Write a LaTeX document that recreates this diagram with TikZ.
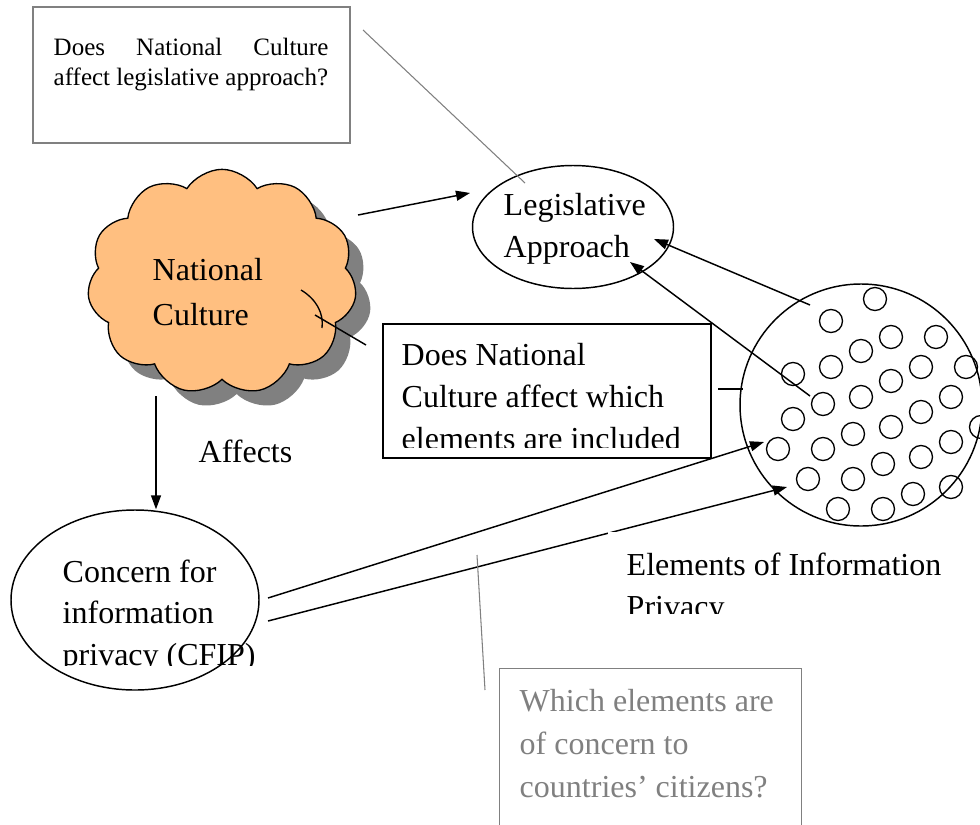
\documentclass[tikz,border=0pt]{standalone}
\usepackage{fontspec}
\setmainfont{Liberation Serif}
\usetikzlibrary{calc, arrows.meta, shadows, shapes.symbols, shapes.geometric}
\definecolor{cloudfill}{RGB}{255,191,128}
\definecolor{notegray}{RGB}{128,128,128}

\begin{document}
\begin{tikzpicture}[x=0.75pt, y=-0.75pt, line width=1.1pt,
		arr/.style={-{Triangle[length=10.5pt, width=7.5pt]}},
		big/.style={font=\fontsize{24}{31.5}\selectfont, inner sep=0pt, align=left, anchor=base west},
		small/.style={font=\fontsize{18.75}{22.5}\selectfont, inner sep=0pt, align=left, anchor=base west},
		dot/.style={circle, draw, line width=1pt, minimum size=17.25pt, inner sep=0pt}]
		% page
		\clip (0,0) rectangle (980,824);

		% national culture cloud
		\node[cloud, draw, fill=cloudfill, line width=1pt, cloud puffs=11, cloud puff arc=115, aspect=1.2,
			minimum width=202pt, minimum height=169pt,
			drop shadow={shadow xshift=11pt, shadow yshift=-11pt, fill=notegray, opacity=1}] (nc) at (222,282) {};
		\draw[line width=1pt] (301,290) .. controls (316,299) and (324,313) .. (322,328);
		\node[big, font=\fontsize{24}{33.5}\selectfont] (ncText) at (152,325) {National\\Culture};

		% question boxes (text nodes sit on their last baseline)
		\node[draw=notegray, line width=0.8pt, minimum width=237.75pt, minimum height=102pt] (q1) at (191.5,75) {};
		\node[small] (q1Text) at (53,85) {\makebox[206pt][s]{Does National Culture}\\affect legislative approach?};
		\node[draw, line width=1.5pt, minimum width=246pt, minimum height=100.5pt, anchor=north west] (q2) at (382,323) {};
		\begin{scope}
			\clip (382,323) rectangle (710,447);
			\node[big] (q2Text) at (401,449) {Does National\\Culture affect which\\elements are included};
		\end{scope}
		\node[draw=notegray, line width=0.8pt, minimum width=226.5pt, minimum height=150pt, anchor=north west] (q3) at (499,668) {};
		\node[big, text=notegray, font=\fontsize{24}{32}\selectfont] (q3Text) at (519,797) {Which elements are\\of concern to\\countries' citizens?};

		% legislative approach
		\node[ellipse, draw, minimum width=150.75pt, minimum height=92.25pt] (leg) at (573,227) {};
		\node[big] (legText) at (503,257) {Legislative\\Approach};

		% concern for information privacy
		\node[ellipse, draw, minimum width=186pt, minimum height=135pt] (cfip) at (135,600) {};
		\begin{scope}
			\clip (0,520) rectangle (300,665);
			\node[big, font=\fontsize{24}{31}\selectfont] (cfipText) at (62,665) {Concern for\\information\\privacy (CFIP)};
		\end{scope}
		\node[big] (affects) at (198,462) {Affects};

		% elements of information privacy
		\node[circle, draw, minimum size=181.5pt, inner sep=0pt] (elem) at (861,405) {};
		\foreach \px/\py [count=\i] in {875/299, 831/321, 891/337, 936/337, 861/351, 831/367, 921/367, 966/367,
			793/374, 891/381, 861/397, 951/397, 823/404, 921/412, 793/419, 891/427, 981/427, 853/434,
			951/442, 778/449, 823/449, 921/457, 883/464, 808/479, 853/479, 951/487, 913/494, 838/509, 883/509}
			\node[dot] (el\i) at (\px,\py) {};

		% connector ends
		\coordinate (ncOut) at (358,215);
		\coordinate (legIn) at (470,193);
		\coordinate (elOut1) at (810,305);
		\coordinate (legIn1) at (654,239);
		\coordinate (elOut2) at (810,396);
		\coordinate (legIn2) at (630,262);
		\coordinate (cfOut1) at (268,598);
		\coordinate (elIn1) at (764,442);
		\coordinate (cfOut2) at (268,621);
		\coordinate (elIn2) at (787,487);
		\coordinate (ncDown) at (156,396);

		% arrows
		\draw[arr] (ncOut) -- (legIn);
		\draw[arr] (elOut1) -- (legIn1);
		\draw[arr] (elOut2) -- (legIn2);
		\draw[arr] (cfOut1) -- (elIn1);
		\draw[arr] (cfOut2) -- (elIn2);
		\draw[arr] (ncDown) -- (ncDown |- cfip.north);

		% callout lines
		\draw[notegray, line width=0.8pt] (363,30) -- (525,183);
		\draw[notegray, line width=0.8pt] (477,555) -- (485,690);
		\draw (315,315) -- (366,345);
		\draw (718,389) -- (743,389);

		% label under the circle
		\node[fill=white, minimum width=276pt, minimum height=61.5pt, anchor=north west, inner sep=0pt] (elBox) at (607,531) {};
		\begin{scope}
			\clip (607,531) rectangle (975,613);
			\node[big] (elText) at (626,617) {Elements of Information\\Privacy};
		\end{scope}
\end{tikzpicture}
\end{document}
